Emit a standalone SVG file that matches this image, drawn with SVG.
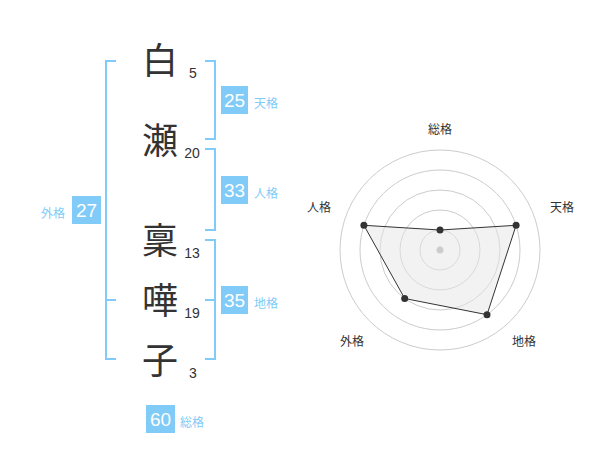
<svg xmlns="http://www.w3.org/2000/svg" width="600" height="470" viewBox="0 0 600 470">
<style>
.k{font-family:"Noto Sans CJK JP","Noto Sans CJK SC",sans-serif;font-size:36px;fill:#333;text-anchor:middle}
.n{font-family:"Liberation Sans",Arial,sans-serif;font-size:14px;fill:#333;text-anchor:middle}
.br{fill:none;stroke:#80cbf8;stroke-width:2}
.box{fill:#80cbf8}
.bn{font-family:"Liberation Sans",Arial,sans-serif;font-size:19px;fill:#fff;text-anchor:middle}
.bl{font-family:"Noto Sans CJK JP",sans-serif;font-size:12px;fill:#80cbf8}
.rl{font-family:"Noto Sans CJK JP",sans-serif;font-size:12px;fill:#333;text-anchor:middle}
.ring{fill:none;stroke:#ccc;stroke-width:1}
</style>
<rect width="600" height="470" fill="#fff"/>
<g id="chars">
<text class="k" x="160" y="74">白</text>
<text class="k" x="160" y="154">瀬</text>
<text class="k" x="160" y="254">稟</text>
<text class="k" x="160" y="314">嘩</text>
<text class="k" x="160" y="374">子</text>
<text class="n" x="193" y="78">5</text>
<text class="n" x="192" y="158">20</text>
<text class="n" x="192" y="258">13</text>
<text class="n" x="192" y="318">19</text>
<text class="n" x="193" y="378">3</text>
</g>
<g id="connectors">
<path class="br" d="M116,61H106V359H116M106,300H116"/>
<path class="br" d="M205,61H215V139H205"/>
<path class="br" d="M205,149H215V230H205"/>
<path class="br" d="M205,240H215V359H205M205,300H215"/>
</g>
<g id="tenkaku">
<rect class="box" x="221" y="86" width="27" height="28"/>
<text class="bn" x="234.5" y="107">25</text>
<text class="bl" x="254" y="108">天格</text>
</g>
<g id="jinkaku">
<rect class="box" x="221" y="176" width="27" height="28"/>
<text class="bn" x="234.5" y="197">33</text>
<text class="bl" x="254" y="198">人格</text>
</g>
<g id="chikaku">
<rect class="box" x="221" y="286" width="27" height="28"/>
<text class="bn" x="234.5" y="307">35</text>
<text class="bl" x="254" y="308">地格</text>
</g>
<g id="gaikaku">
<rect class="box" x="72" y="196" width="29" height="28"/>
<text class="bn" x="86.5" y="217">27</text>
<text class="bl" x="41" y="218">外格</text>
</g>
<g id="soukaku">
<rect class="box" x="146" y="405" width="29" height="28"/>
<text class="bn" x="160.5" y="426">60</text>
<text class="bl" x="180" y="427">総格</text>
</g>
<g id="radar">
<circle class="ring" cx="440" cy="250" r="20"/>
<circle class="ring" cx="440" cy="250" r="40"/>
<circle class="ring" cx="440" cy="250" r="60"/>
<circle class="ring" cx="440" cy="250" r="80"/>
<circle class="ring" cx="440" cy="250" r="100"/>
<polygon points="440,230 516.1,225.3 487,314.7 404.7,298.5 363.9,225.3" fill="#e6e6e6" fill-opacity="0.5" stroke="#333" stroke-width="1"/>
<circle cx="440" cy="250" r="3.5" fill="#ccc"/>
<g fill="#333">
<circle cx="440" cy="230" r="3.5"/>
<circle cx="516.1" cy="225.3" r="3.5"/>
<circle cx="487" cy="314.7" r="3.5"/>
<circle cx="404.7" cy="298.5" r="3.5"/>
<circle cx="363.9" cy="225.3" r="3.5"/>
</g>
<text class="rl" x="440" y="134">総格</text>
<text class="rl" x="562" y="212">天格</text>
<text class="rl" x="524" y="346">地格</text>
<text class="rl" x="352" y="346">外格</text>
<text class="rl" x="319" y="212">人格</text>
</g>
</svg>
